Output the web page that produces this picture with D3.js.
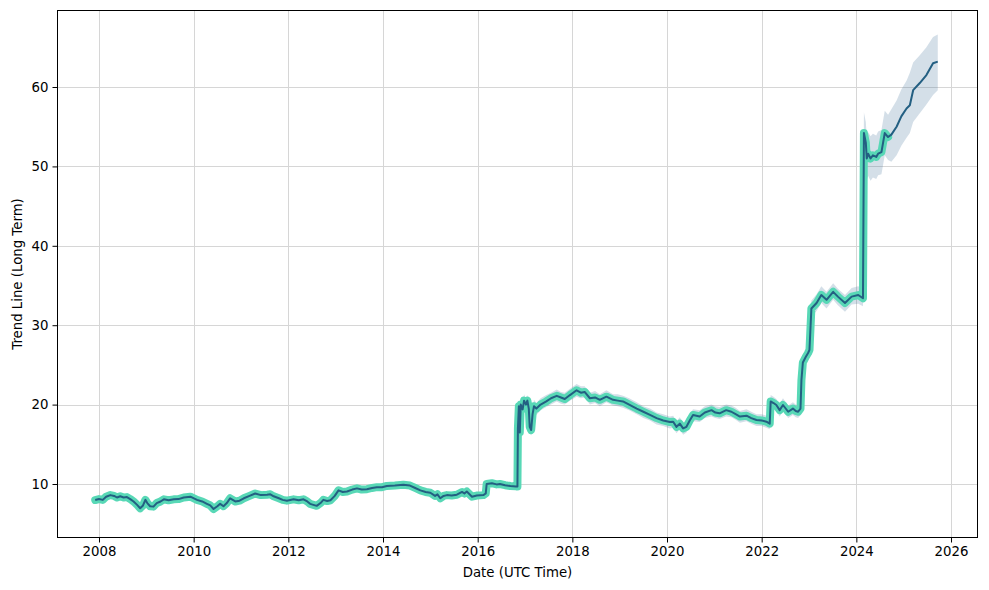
<!DOCTYPE html>
<html>
<head>
<meta charset="utf-8">
<script src="https://cdn.jsdelivr.net/npm/d3@7"></script>
<style>
  html, body { margin: 0; padding: 0; background: #ffffff; }
  svg { display: block; }
  text { font-family: "DejaVu Sans", sans-serif; fill: #000; }
</style>
</head>
<body>
<svg id="chart" width="989" height="590"></svg>
<script>
// ---- data (decimal years) ----
const years = [2007.92,2008.00,2008.08,2008.15,2008.24,2008.32,2008.38,2008.45,2008.52,2008.59,
2008.66,2008.73,2008.80,2008.87,2008.93,2008.98,2009.02,2009.08,2009.15,2009.22,
2009.30,2009.37,2009.47,2009.58,2009.68,2009.79,2009.93,2010.07,2010.18,2010.28,
2010.35,2010.42,2010.50,2010.56,2010.63,2010.70,2010.77,2010.88,2010.97,2011.06,
2011.18,2011.30,2011.42,2011.55,2011.62,2011.69,2011.80,2011.88,2011.97,2012.11,
2012.22,2012.32,2012.40,2012.46,2012.60,2012.68,2012.74,2012.82,2012.89,2012.98,
2013.06,2013.15,2013.24,2013.35,2013.45,2013.55,2013.66,2013.77,2013.87,2013.98,
2014.08,2014.25,2014.43,2014.57,2014.68,2014.79,2014.90,2015.00,2015.10,2015.15,
2015.21,2015.28,2015.35,2015.45,2015.56,2015.67,2015.72,2015.77,2015.88,2015.98,
2016.12,2016.17,2016.19,2016.30,2016.40,2016.47,2016.58,2016.69,2016.81,2016.84,
2016.85,2016.87,2016.89,2016.91,2016.95,2016.98,2017.02,2017.05,2017.08,2017.10,
2017.13,2017.16,2017.19,2017.24,2017.33,2017.45,2017.55,2017.67,2017.76,2017.84,
2017.95,2018.09,2018.18,2018.26,2018.37,2018.48,2018.58,2018.72,2018.86,2018.96,
2019.07,2019.20,2019.36,2019.50,2019.64,2019.78,2019.92,2020.06,2020.13,2020.20,
2020.27,2020.34,2020.41,2020.48,2020.55,2020.69,2020.80,2020.94,2021.02,2021.11,
2021.25,2021.36,2021.45,2021.54,2021.68,2021.78,2021.89,2022.00,2022.10,2022.17,
2022.19,2022.25,2022.31,2022.38,2022.45,2022.56,2022.66,2022.72,2022.77,2022.82,
2022.84,2022.87,2022.93,2022.98,2023.01,2023.05,2023.16,2023.26,2023.37,2023.51,
2023.61,2023.76,2023.90,2024.04,2024.14,2024.16,2024.20,2024.22,2024.25,2024.30,
2024.35,2024.42,2024.46,2024.53,2024.60,2024.67,2024.74,2024.85,2024.95,2025.06,
2025.13,2025.20,2025.34,2025.48,2025.62,2025.72];

const trend = [7.98,8.1,8.0,8.4,8.6,8.5,8.3,8.45,8.3,8.35,
8.1,7.8,7.4,6.95,7.3,8.0,7.6,7.2,7.15,7.6,
7.8,8.07,7.95,8.07,8.1,8.3,8.4,8.0,7.8,7.5,
7.3,6.85,7.2,7.5,7.2,7.6,8.2,7.8,7.9,8.2,
8.5,8.8,8.6,8.65,8.7,8.45,8.2,8.0,7.9,8.07,
7.95,8.07,7.8,7.5,7.25,7.6,8.0,7.85,7.95,8.5,
9.2,9.0,9.05,9.3,9.45,9.3,9.35,9.5,9.6,9.6,
9.75,9.8,9.9,9.8,9.5,9.2,9.0,8.9,8.5,8.7,
8.2,8.5,8.6,8.55,8.65,9.0,8.8,9.05,8.4,8.55,
8.6,8.8,10.0,10.1,9.95,10.0,9.85,9.75,9.7,9.7,
17.0,19.8,16.5,20.0,19.4,20.5,20.0,20.5,19.5,17.2,
16.8,18.8,19.8,19.5,20.0,20.4,20.8,21.1,20.9,20.7,
21.2,21.8,21.5,21.6,20.8,20.9,20.6,21.0,20.6,20.5,
20.4,20.0,19.5,19.1,18.7,18.3,18.0,17.8,17.85,17.2,
17.6,17.0,17.2,18.0,18.7,18.5,19.0,19.3,19.0,18.9,
19.3,19.1,18.8,18.5,18.6,18.3,18.06,18.0,17.85,17.6,
20.4,20.2,19.95,19.3,19.95,19.1,19.5,19.2,19.1,19.5,
23.1,25.3,26.0,26.5,26.9,32.1,32.8,33.8,33.2,34.2,
33.6,32.8,33.6,33.8,33.4,54.2,53.0,51.0,51.6,51.0,
51.4,51.2,51.6,51.8,54.2,53.7,54.0,55.0,56.3,57.3,
57.7,59.6,60.5,61.5,63.0,63.2];

const bandLow = [7.68,7.8,7.7,8.1,8.3,8.2,8.0,8.15,8.0,8.05,
7.8,7.5,7.1,6.65,7.0,7.7,7.3,6.9,6.85,7.3,
7.5,7.77,7.65,7.77,7.8,8.0,8.1,7.7,7.5,7.2,
7.0,6.55,6.9,7.2,6.9,7.3,7.9,7.5,7.6,7.9,
8.2,8.5,8.3,8.35,8.4,8.15,7.9,7.7,7.6,7.77,
7.65,7.77,7.5,7.2,6.95,7.3,7.7,7.55,7.65,8.2,
8.9,8.7,8.75,9.0,9.15,9.0,9.05,9.2,9.3,9.3,
9.45,9.5,9.6,9.5,9.2,8.9,8.7,8.6,8.2,8.4,
7.9,8.2,8.3,8.25,8.35,8.7,8.5,8.75,8.1,8.25,
8.3,8.5,9.7,9.8,9.65,9.7,9.55,9.45,9.4,9.4,
16.3,19.1,15.8,19.3,18.7,19.8,19.3,19.8,18.8,16.5,
16.1,18.1,19.1,18.7,19.3,19.7,20.0,20.4,20.1,20.0,
20.5,21.0,20.8,20.9,20.0,20.2,19.8,20.3,19.9,19.8,
19.6,19.3,18.8,18.3,18.0,17.5,17.3,17.0,17.1,16.4,
16.9,16.2,16.5,17.3,17.9,17.8,18.3,18.5,18.3,18.2,
18.5,18.4,18.1,17.7,17.9,17.6,17.3,17.3,17.1,16.9,
19.6,19.4,19.1,18.5,19.2,18.3,18.7,18.4,18.3,18.7,
22.3,24.4,25.1,25.6,26.0,31.1,31.8,32.8,32.1,33.2,
32.5,31.7,32.6,32.7,32.4,51.5,50.2,48.3,48.8,48.2,
48.6,48.4,48.9,49.0,51.4,50.8,50.6,51.4,52.6,53.6,
54.2,55.6,56.7,57.8,59.0,59.6];

const bandHigh = [8.28,8.4,8.3,8.7,8.9,8.8,8.6,8.75,8.6,8.65,
8.4,8.1,7.7,7.25,7.6,8.3,7.9,7.5,7.45,7.9,
8.1,8.37,8.25,8.37,8.4,8.6,8.7,8.3,8.1,7.8,
7.6,7.15,7.5,7.8,7.5,7.9,8.5,8.1,8.2,8.5,
8.8,9.1,8.9,8.95,9.0,8.75,8.5,8.3,8.2,8.37,
8.25,8.37,8.1,7.8,7.55,7.9,8.3,8.15,8.25,8.8,
9.5,9.3,9.35,9.6,9.75,9.6,9.65,9.8,9.9,9.9,
10.05,10.1,10.2,10.1,9.8,9.5,9.3,9.2,8.8,9.0,
8.5,8.8,8.9,8.85,8.95,9.3,9.1,9.35,8.7,8.85,
8.9,9.1,10.3,10.4,10.25,10.3,10.15,10.05,10.0,10.0,
17.7,20.5,17.2,20.8,20.1,21.3,20.7,21.2,20.2,17.9,
17.5,19.5,20.6,20.2,20.8,21.2,21.5,21.9,21.6,21.5,
22.0,22.6,22.3,22.3,21.5,21.7,21.3,21.8,21.3,21.3,
21.1,20.8,20.3,19.8,19.5,19.0,18.8,18.5,18.6,17.9,
18.4,17.7,18.0,18.8,19.4,19.3,19.8,20.0,19.8,19.7,
20.0,19.9,19.6,19.2,19.4,19.1,18.8,18.8,18.6,18.4,
21.2,21.0,20.7,20.1,20.8,19.9,20.3,20.0,19.9,20.3,
23.9,26.2,26.9,27.4,27.8,33.1,33.9,34.9,34.2,35.3,
34.6,33.8,34.7,34.9,34.5,56.8,55.6,53.6,54.3,53.8,
54.1,53.9,54.4,54.6,57.0,56.5,57.2,58.3,59.7,60.8,
61.8,63.1,64.0,65.0,66.3,66.6];

const historyEnd = 2024.67;   // last date of the observed (teal) period
const xTicks = [2008, 2010, 2012, 2014, 2016, 2018, 2020, 2022, 2024, 2026];
const yTicks = [10, 20, 30, 40, 50, 60];

// ---- layout ----
const L = 57, R = 978, T = 10, B = 538;
const svg = d3.select("#chart");

const x = d3.scaleLinear().domain([2007.1127, 2026.570]).range([L, R]);
const y = d3.scaleLinear().domain([3.199, 69.70]).range([B, T]);

const pts = years.map((yr, i) => ({ yr, v: trend[i], lo: bandLow[i], hi: bandHigh[i] }));
const histPts = pts.filter(d => d.yr <= historyEnd + 1e-9);

svg.append("defs").append("clipPath").attr("id", "clip")
  .append("rect").attr("x", L).attr("y", T).attr("width", R - L).attr("height", B - T);

// grid
const grid = svg.append("g");
grid.selectAll("line.gx").data(xTicks).join("line")
  .attr("x1", d => Math.round(x(d)) + 0.5).attr("x2", d => Math.round(x(d)) + 0.5)
  .attr("y1", T).attr("y2", B)
  .attr("stroke", "#d6d6d6").attr("stroke-width", 1);
grid.selectAll("line.gy").data(yTicks).join("line")
  .attr("y1", d => Math.round(y(d)) + 0.5).attr("y2", d => Math.round(y(d)) + 0.5)
  .attr("x1", L).attr("x2", R)
  .attr("stroke", "#d6d6d6").attr("stroke-width", 1);

const plot = svg.append("g").attr("clip-path", "url(#clip)");

// uncertainty band
const area = d3.area().x(d => x(d.yr)).y0(d => y(d.lo)).y1(d => y(d.hi));
plot.append("path").datum(pts).attr("d", area)
  .attr("fill", "#3b6f96").attr("fill-opacity", 0.22);

// observed-period highlight (thick teal)
const line = d3.line().x(d => x(d.yr)).y(d => y(d.v));
plot.append("path").datum(histPts).attr("d", line)
  .attr("fill", "none").attr("stroke", "#58d8b6").attr("stroke-width", 8)
  .attr("stroke-linejoin", "round").attr("stroke-linecap", "round");

// trend line
plot.append("path").datum(pts).attr("d", line)
  .attr("fill", "none").attr("stroke", "#235f82").attr("stroke-width", 2)
  .attr("stroke-linejoin", "round");

// axes
const xAxis = svg.append("g").attr("transform", `translate(0,${B})`)
  .call(d3.axisBottom(x).tickValues(xTicks).tickFormat(d3.format("d")).tickSize(4.5).tickSizeOuter(0).tickPadding(4));
const yAxis = svg.append("g").attr("transform", `translate(${L},0)`)
  .call(d3.axisLeft(y).tickValues(yTicks).tickFormat(d3.format("d")).tickSize(4.5).tickSizeOuter(0).tickPadding(4));
[xAxis, yAxis].forEach(g => {
  g.select(".domain").remove();
  g.selectAll("line").attr("stroke", "#000");
  g.selectAll("text").attr("font-size", "13.3px").attr("font-family", "DejaVu Sans, sans-serif").attr("fill", "#000");
});

// spines
svg.append("rect").attr("x", L + 0.5).attr("y", T + 0.5).attr("width", R - L - 1).attr("height", B - T - 1)
  .attr("fill", "none").attr("stroke", "#000").attr("stroke-width", 1);

// labels
svg.append("text").attr("x", (L + R) / 2).attr("y", 577).attr("text-anchor", "middle")
  .attr("font-size", "13.3px").text("Date (UTC Time)");
svg.append("text").attr("transform", `translate(22,${(T + B) / 2}) rotate(-90)`).attr("text-anchor", "middle")
  .attr("font-size", "13.3px").text("Trend Line (Long Term)");
</script>
</body>
</html>
